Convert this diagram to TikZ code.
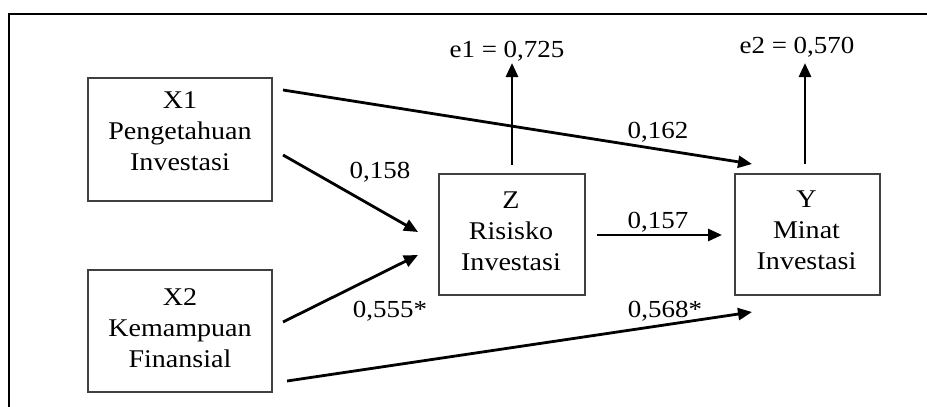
\documentclass[tikz,border=0pt]{standalone}
\usepackage{fontspec}
\setmainfont{Liberation Serif}[FakeStretch=1.1]
\usetikzlibrary{arrows.meta}
\begin{document}
\begin{tikzpicture}[x=1pt,y=-1pt,
  vbox/.style={draw=black!75, line width=1.6pt, inner sep=0pt},
  txt/.style={font=\fontsize{25.5}{31}\selectfont, align=center, inner sep=0pt},
  lbl/.style={font=\fontsize{24.5}{30}\selectfont, inner sep=0pt, anchor=base},
  arr/.style={line width=2.8pt, -{Triangle[length=14pt,width=12pt]}}
]
\useasboundingbox (0,0) rectangle (927,407);
% outer frame (top and left sides visible)
\draw[line width=2.5pt] (9,407) -- (9,14) -- (927,14);

% boxes
\node[vbox, minimum width=184pt, minimum height=123pt] (x1) at (180,139.5) {};
\node[txt] (x1t) at (180,131) {X1\\Pengetahuan\\Investasi};
\node[vbox, minimum width=184pt, minimum height=122pt] (x2) at (180,331) {};
\node[txt] (x2t) at (180,328) {X2\\Kemampuan\\Finansial};
\node[vbox, minimum width=146pt, minimum height=121pt] (z) at (512,234.5) {};
\node[txt] (zt) at (511,231) {Z\\Risisko\\Investasi};
\node[vbox, minimum width=145pt, minimum height=121pt] (y) at (807.5,234.5) {};
\node[txt] (yt) at (806.5,230) {Y\\Minat\\Investasi};

% connector end points
\coordinate (a1s) at (283,90);   \coordinate (a1e) at (752,164);
\coordinate (a2s) at (283,155);  \coordinate (a2e) at (418,232);
\coordinate (a3s) at (283,322);  \coordinate (a3e) at (418,255);
\coordinate (a4s) at (287,381);  \coordinate (a4e) at (752,312);
\coordinate (a5s) at (597,235);  \coordinate (a5e) at (722,235);
\coordinate (a6s) at (512,165);  \coordinate (a6e) at (512,63);
\coordinate (a7s) at (805,164);  \coordinate (a7e) at (805,63);

\draw[arr] (a1s) -- (a1e);
\draw[arr] (a2s) -- (a2e);
\draw[arr] (a3s) -- (a3e);
\draw[arr] (a4s) -- (a4e);
\draw[arr] (a5s) -- (a5e);
\draw[arr] (a6s) -- (a6e);
\draw[arr] (a7s) -- (a7e);

% labels
\node[lbl] (e1) at (507,57) {e1 = 0,725};
\node[lbl] (e2) at (797,53) {e2 = 0,570};
\node[lbl] (l158) at (380,178) {0,158};
\node[lbl] (l162) at (658,138) {0,162};
\node[lbl] (l157) at (658,228) {0,157};
\node[lbl] (l555) at (390,317) {0,555*};
\node[lbl] (l568) at (665,317) {0,568*};
\end{tikzpicture}
\end{document}
